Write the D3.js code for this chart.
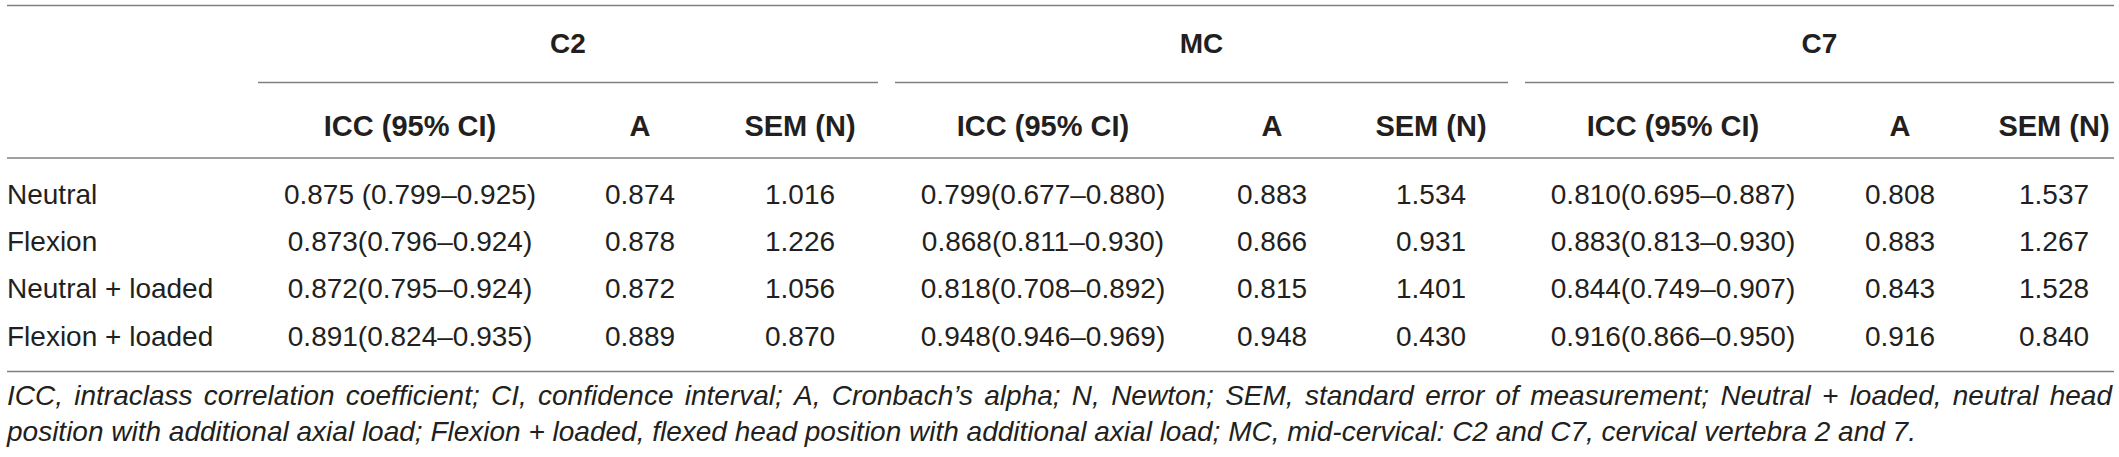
<!DOCTYPE html>
<html>
<head>
<meta charset="utf-8">
<script src="https://cdn.jsdelivr.net/npm/d3@7/dist/d3.min.js"></script>
<style>
  html, body { margin: 0; padding: 0; background: #fff; }
  svg { display: block; }
  text { font-family: "Liberation Sans", Arial, Helvetica, sans-serif; fill: #231f20; }
</style>
</head>
<body>
<svg id="chart" width="2119" height="457"></svg>
<script>
// ---------- DATA ----------
const conditions = ["Neutral", "Flexion", "Neutral + loaded", "Flexion + loaded"];
const regions = ["C2", "MC", "C7"];
const metrics = ["ICC (95% CI)", "A", "SEM (N)"];

const c2ICC = ["0.875 (0.799–0.925)", "0.873(0.796–0.924)", "0.872(0.795–0.924)", "0.891(0.824–0.935)"];
const c2A   = [0.874, 0.878, 0.872, 0.889];
const c2SEM = [1.016, 1.226, 1.056, 0.870];

const mcICC = ["0.799(0.677–0.880)", "0.868(0.811–0.930)", "0.818(0.708–0.892)", "0.948(0.946–0.969)"];
const mcA   = [0.883, 0.866, 0.815, 0.948];
const mcSEM = [1.534, 0.931, 1.401, 0.430];

const c7ICC = ["0.810(0.695–0.887)", "0.883(0.813–0.930)", "0.844(0.749–0.907)", "0.916(0.866–0.950)"];
const c7A   = [0.808, 0.883, 0.843, 0.916];
const c7SEM = [1.537, 1.267, 1.528, 0.840];

const captionLine1 = "ICC, intraclass correlation coefficient; CI, confidence interval; A, Cronbach’s alpha; N, Newton; SEM, standard error of measurement; Neutral + loaded, neutral head";
const captionLine2 = "position with additional axial load; Flexion + loaded, flexed head position with additional axial load; MC, mid-cervical: C2 and C7, cervical vertebra 2 and 7.";

// ---------- BUILD TABLE ----------
const regionData = {
  C2: { icc: c2ICC, a: c2A, sem: c2SEM },
  MC: { icc: mcICC, a: mcA, sem: mcSEM },
  C7: { icc: c7ICC, a: c7A, sem: c7SEM }
};
const fmt = d3.format(".3f");

const cells = [];
regions.forEach(r => {
  conditions.forEach((c, i) => {
    cells.push({ region: r, metric: metrics[0], row: c, text: regionData[r].icc[i] });
    cells.push({ region: r, metric: metrics[1], row: c, text: fmt(regionData[r].a[i]) });
    cells.push({ region: r, metric: metrics[2], row: c, text: fmt(regionData[r].sem[i]) });
  });
});

// ---------- LAYOUT ----------
const svg = d3.select("#chart");
const left = 7, right = 2114;
const fontSize = 28;

// group spans (underline start / end)
const groupX = d3.scaleOrdinal().domain(regions).range([258, 895, 1525]);
const groupEnd = d3.scaleOrdinal().domain(regions).range([878, 1508, 2114]);

// column centres
const colKeys = [];
regions.forEach(r => metrics.forEach(m => colKeys.push(r + "|" + m)));
const colScale = d3.scaleOrdinal().domain(colKeys)
  .range([410, 640, 800, 1043, 1272, 1431, 1673, 1900, 2054]);
const colX = (region, metric) => colScale(region + "|" + metric);

const y = d3.scalePoint().domain(conditions).range([194, 336]);

const ruleColor = "#808080";
const rule = (x1, x2, yy) => svg.append("line")
  .attr("x1", x1).attr("x2", x2).attr("y1", yy).attr("y2", yy)
  .attr("stroke", ruleColor).attr("stroke-width", 1.5);

// rules
rule(left, right, 5.5);
regions.forEach(r => rule(groupX(r), groupEnd(r), 82.5));
rule(left, right, 158);
rule(left, right, 371.5);

// group headers
svg.selectAll("text.group").data(regions).join("text")
  .attr("class", "group")
  .attr("x", r => (groupX(r) + groupEnd(r)) / 2)
  .attr("y", 43)
  .attr("dy", "0.35em")
  .attr("text-anchor", "middle")
  .attr("font-weight", "bold")
  .attr("font-size", fontSize)
  .text(r => r);

// metric headers
const headerCells = [];
regions.forEach(r => metrics.forEach(m => headerCells.push({ region: r, metric: m })));
svg.selectAll("text.head").data(headerCells).join("text")
  .attr("class", "head")
  .attr("x", d => colX(d.region, d.metric))
  .attr("y", 126)
  .attr("dy", "0.35em")
  .attr("text-anchor", "middle")
  .attr("font-weight", "bold")
  .attr("font-size", 29)
  .text(d => d.metric);

// row labels
svg.selectAll("text.rowlab").data(conditions).join("text")
  .attr("class", "rowlab")
  .attr("x", left)
  .attr("y", d => y(d))
  .attr("dy", "0.35em")
  .attr("font-size", fontSize)
  .text(d => d);

// cells
svg.selectAll("text.cell").data(cells).join("text")
  .attr("class", "cell")
  .attr("x", d => colX(d.region, d.metric))
  .attr("y", d => y(d.row))
  .attr("dy", "0.35em")
  .attr("text-anchor", "middle")
  .attr("font-size", fontSize)
  .text(d => d.text);

// ---------- CAPTION ----------
// size: line 2 ends near x = 1932 in the reference; line 1 is justified
const probe = svg.append("text").attr("font-size", 100).attr("font-style", "italic").text(captionLine2);
const capSize = Math.min(28, 100 * (1932 - left) / probe.node().getComputedTextLength());
probe.remove();

const cap1 = svg.append("text")
  .attr("y", 405)
  .attr("font-size", capSize).attr("font-style", "italic");
const words = captionLine1.split(" ");
const tmp = svg.append("text").attr("font-size", capSize).attr("font-style", "italic");
const widths = words.map(w => { tmp.text(w); return tmp.node().getComputedTextLength(); });
tmp.remove();
const total = d3.sum(widths);
const gap = Math.max(capSize * 0.28, (right - 2 - left - total) / (words.length - 1));
let cx = left;
words.forEach((w, i) => {
  cap1.append("tspan").attr("x", cx).text(w);
  cx += widths[i] + gap;
});

svg.append("text")
  .attr("x", left).attr("y", 441)
  .attr("font-size", capSize).attr("font-style", "italic")
  .text(captionLine2);
</script>
</body>
</html>
